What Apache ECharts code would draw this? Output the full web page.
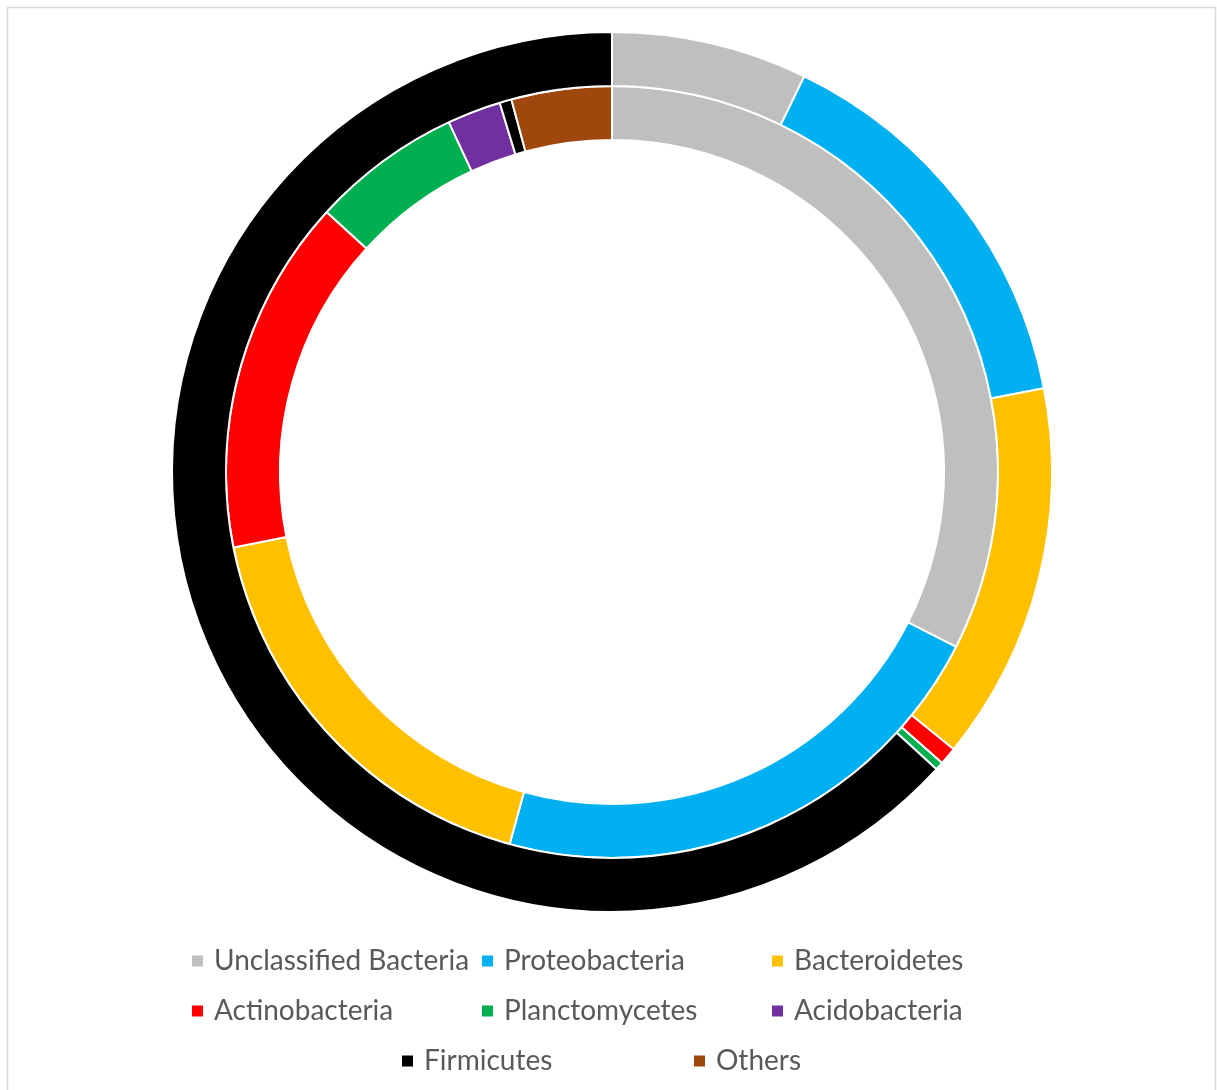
<!DOCTYPE html>
<html>
<head>
<meta charset="utf-8">
<style>
  html, body { margin: 0; padding: 0; background: #fff; }
  #chart { width: 1217px; height: 1090px; }
</style>
<script src="https://cdn.jsdelivr.net/npm/echarts@6/dist/echarts.min.js"></script>
</head>
<body>
<div id="chart"></div>
<script>
// phyla, in legend order
const phyla = ['Unclassified Bacteria', 'Proteobacteria', 'Bacteroidetes', 'Actinobacteria',
  'Planctomycetes', 'Acidobacteria', 'Firmicutes', 'Others']
const colors = ['#BFBFBF', '#00B0F0', '#FFC000', '#FF0000', '#00B050', '#7030A0', '#000000', '#9E480E']

// relative abundance (%)
const innerValues = [32.5, 21.8, 17.6, 14.9, 6.3, 2.25, 0.5, 4.2]
const outerValues = [7.2, 14.75, 13.9, 0.65, 0.3, 0, 63.2, 0]

// legend grid (marker left x, row centre y)
const legendX = [190, 480, 770, 190, 480, 770, 400, 692]
const legendY = [962, 962, 962, 1012, 1012, 1012, 1062, 1062]

const chart = echarts.init(document.getElementById('chart'))

function ringData(values) {
  return phyla
    .map((name, i) => ({ name, value: values[i], itemStyle: { color: colors[i] } }))
    .filter(d => d.value > 0)
}

const ringStyle = {
  type: 'pie',
  center: [612, 472],
  startAngle: 90,
  clockwise: true,
  avoidLabelOverlap: false,
  label: { show: false },
  labelLine: { show: false },
  emphasis: { disabled: true },
  itemStyle: { borderColor: '#fff', borderWidth: 2 },
}

const legends = phyla.map((name, i) => ({
  data: [name],
  left: legendX[i],
  top: legendY[i] - 15,
  padding: 0,
  orient: 'horizontal',
  icon: 'rect',
  itemWidth: 13,
  itemHeight: 13,
  selectedMode: false,
  textStyle: {
    color: '#595959',
    fontSize: 28,
    fontFamily: 'Lato',
    padding: [0, 0, 0, 5],
  },
}))

chart.setOption({
  animation: false,
  backgroundColor: '#fff',
  color: colors,
  legend: legends,
  graphic: [{
    type: 'rect',
    shape: { x: 7.5, y: 7.5, width: 1208, height: 1100 },
    style: { fill: 'none', stroke: '#D9D9D9', lineWidth: 1.5 },
    silent: true,
  }],
  series: [
    Object.assign({}, ringStyle, { name: 'inner', radius: [332, 386], data: ringData(innerValues) }),
    Object.assign({}, ringStyle, { name: 'outer', radius: [386, 440], data: ringData(outerValues) }),
  ],
})

window.addEventListener('resize', () => chart.resize())
</script>
</body>
</html>
